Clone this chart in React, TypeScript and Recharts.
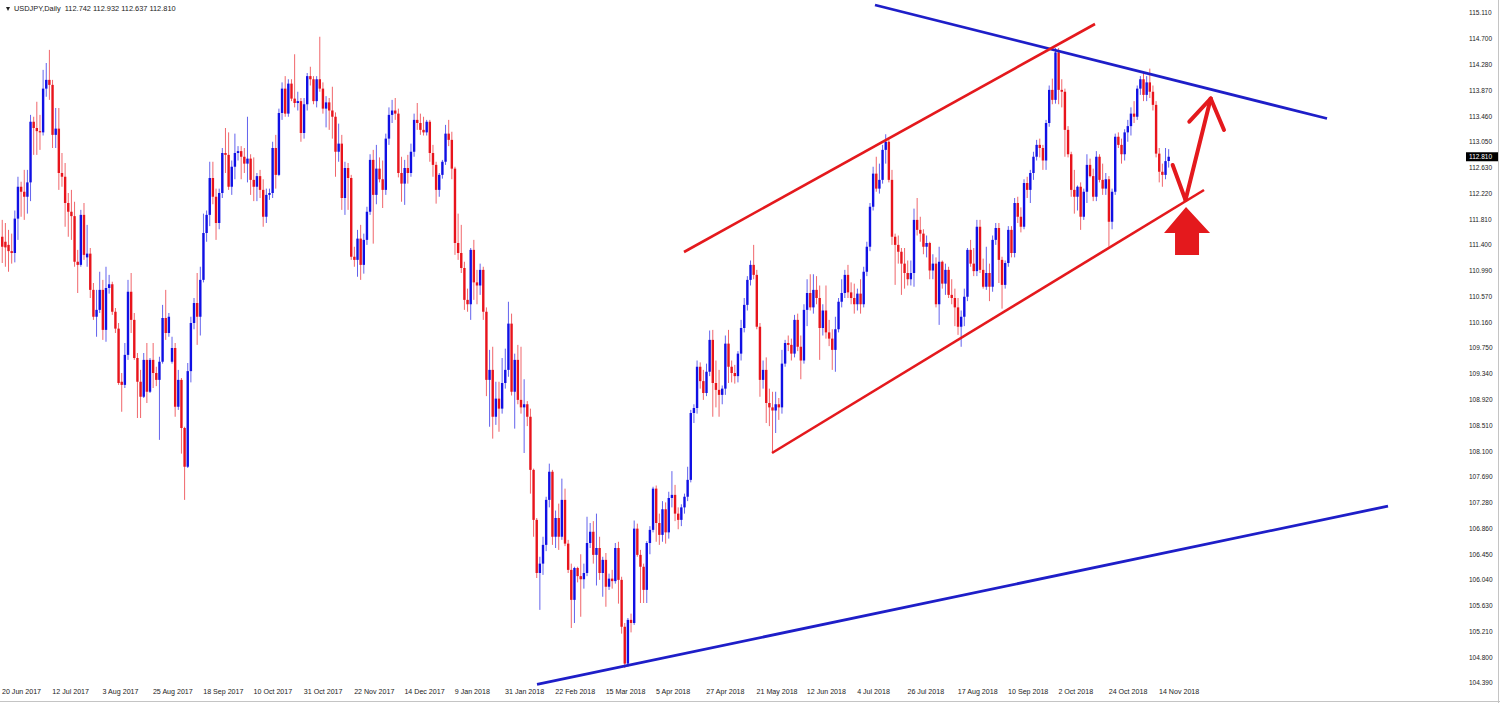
import React from 'react';
import { ComposedChart, Bar, XAxis, YAxis, ReferenceLine, ReferenceDot } from 'recharts';

// ---- candles [open, high, low, close] ----
const bars2017JunAug: number[][] = [
  [111.53,111.80,111.11,111.37],[111.45,111.75,111.05,111.36],[111.40,111.64,110.97,111.30],[111.30,111.58,111.10,111.27],
  [111.27,111.95,111.12,111.82],[111.82,112.49,111.48,112.33],[112.33,112.41,111.85,112.25],[112.25,112.60,111.80,112.17],
  [112.17,112.60,111.90,112.40],[112.40,113.48,112.10,113.37],[113.37,113.45,112.84,113.27],[113.27,113.69,112.84,113.22],
  [113.22,113.48,112.92,113.20],[113.20,114.20,113.15,113.90],[113.90,114.31,113.77,114.04],[114.04,114.52,113.72,113.96],
  [113.96,114.04,112.95,113.16],[113.16,113.59,112.95,113.26],[113.26,113.59,112.28,112.55],[112.55,112.87,112.33,112.49],
  [112.49,112.71,111.69,112.07],[112.07,112.23,111.53,111.93],[111.93,112.28,111.48,111.86],[111.86,112.09,111.05,111.13],
  [111.13,111.32,110.63,111.08],[111.08,111.96,111.05,111.88],[111.88,112.07,111.16,111.24],[111.20,111.72,111.05,111.26],
  [111.26,111.35,110.55,110.68],[110.68,110.79,110.20,110.25],[110.25,110.68,109.93,110.36],[110.36,110.97,110.31,110.68],
  [110.68,110.84,109.88,110.04],[110.04,111.05,109.85,110.71],[110.71,110.92,110.62,110.77],[110.77,110.81,110.28,110.33],
  [110.33,110.39,109.99,110.06],[110.06,110.15,109.16,109.19],[109.21,109.35,108.73,109.16],[109.16,109.83,109.11,109.64],
  [109.64,110.84,109.56,110.65],[110.65,110.95,109.99,110.20],[110.20,110.31,109.56,109.59],[109.59,109.67,108.63,109.21],
  [109.21,109.40,108.63,108.97],[108.97,109.67,108.95,109.56],[109.56,109.83,108.87,109.05],[109.05,109.59,109.03,109.56],
  [109.56,109.83,109.11,109.35],[109.35,109.45,109.14,109.24],[109.24,109.61,108.28,109.53],[109.53,110.44,109.50,110.23],
  [110.23,110.68,109.88,109.99],[109.99,110.31,109.93,110.25],
];
const bars2017SepOct: number[][] = [
  [109.53,109.93,109.50,109.75],[109.75,109.83,108.65,108.81],[108.81,109.40,108.76,109.24],[109.24,109.27,108.06,108.47],
  [108.47,108.49,107.32,107.85],[107.85,109.51,107.83,109.38],[109.38,110.25,109.20,110.15],[110.15,110.55,110.05,110.47],
  [110.47,110.95,109.80,110.25],[110.25,111.05,109.95,110.84],[110.84,111.90,110.80,111.59],[111.59,111.95,111.45,111.88],
  [111.88,112.73,111.70,112.47],[112.47,112.73,112.05,112.17],[112.17,112.30,111.48,111.75],[111.75,112.30,111.65,112.23],
  [112.23,112.95,112.15,112.87],[112.87,113.27,112.55,112.84],[112.84,113.20,112.28,112.33],[112.33,112.75,112.20,112.65],
  [112.65,113.18,112.45,112.87],[112.87,112.98,112.75,112.90],[112.90,112.98,112.45,112.81],[112.81,112.95,112.55,112.70],
  [112.70,113.45,112.40,112.78],[112.78,112.85,112.20,112.44],[112.44,112.80,112.10,112.33],[112.33,112.55,112.10,112.50],
  [112.50,112.60,112.15,112.28],[112.28,112.45,111.69,111.85],[111.85,112.30,111.75,112.20],[112.20,112.30,112.12,112.23],
  [112.23,113.05,112.15,112.95],[112.95,113.16,112.30,112.52],[112.52,113.58,112.50,113.51],[113.51,114.00,113.40,113.90],
  [113.90,114.10,113.45,113.50],[113.50,114.05,113.45,113.98],[113.98,114.05,113.70,113.74],[113.74,114.45,113.60,113.67],
  [113.67,113.85,113.55,113.70],[113.70,113.75,113.05,113.19],
];
const bars2017NovDec: number[][] = [
  [113.19,113.75,113.10,113.65],[113.65,114.15,113.55,114.10],[114.10,114.25,113.95,114.05],[114.05,114.10,113.65,113.70],
  [113.70,114.10,113.60,114.05],[114.05,114.73,113.85,113.90],[113.90,114.00,113.50,113.58],[113.58,113.78,113.28,113.68],
  [113.68,113.75,113.24,113.55],[113.55,113.93,113.10,113.45],[113.45,113.52,112.49,112.89],[112.89,113.34,112.73,113.02],
  [113.02,113.16,111.96,112.15],[112.15,112.73,111.88,112.63],[112.63,112.71,111.96,112.47],[112.47,112.52,111.16,111.21],
  [111.21,111.37,111.05,111.16],[111.16,111.64,110.89,111.50],[111.50,111.72,110.84,111.08],[111.08,111.58,110.94,111.48],
  [111.48,112.01,111.40,111.93],[111.93,112.85,111.88,112.76],[112.76,112.92,111.42,112.20],[112.20,113.00,112.05,112.62],
  [112.62,112.80,112.40,112.45],[112.45,112.75,111.99,112.28],[112.28,113.18,112.20,113.10],[113.10,113.60,113.00,113.48],
  [113.48,113.72,113.35,113.55],[113.55,113.75,113.40,113.50],[113.50,113.58,112.48,112.55],[112.55,112.81,112.09,112.38],
  [112.38,112.76,112.04,112.63],[112.63,112.84,112.38,112.55],[112.55,113.02,112.49,112.89],[112.89,113.50,112.81,113.40],
  [113.40,113.67,113.24,113.35],[113.35,113.50,113.16,113.24],[113.24,113.45,113.15,113.20],[113.20,113.40,113.15,113.37],
  [113.37,113.40,112.73,112.87],[112.87,113.00,112.49,112.68],[112.68,112.73,112.06,112.28],[112.28,112.55,112.17,112.52],
  [112.52,112.76,112.46,112.73],[112.73,113.32,112.68,113.18],[113.18,113.40,112.98,113.08],[113.08,113.21,112.45,112.62],
];
const bars2018JanFeb: number[][] = [
  [112.62,112.65,111.24,111.43],[111.43,111.90,111.16,111.27],[111.27,111.72,110.95,111.03],[111.03,111.13,110.36,110.52],
  [110.52,110.70,110.33,110.45],[110.45,111.35,110.20,111.32],[111.32,111.48,110.52,110.80],[110.80,111.00,110.45,110.75],
  [110.75,111.10,110.60,111.00],[111.00,111.05,110.20,110.33],[110.33,110.40,108.98,109.24],[109.24,109.72,108.49,109.40],
  [109.40,109.77,108.30,108.65],[108.65,109.21,108.52,108.94],[108.94,109.21,108.41,108.78],[108.78,109.59,108.70,109.19],
  [109.19,109.74,109.10,109.40],[109.40,110.49,109.29,110.14],[110.14,110.30,108.99,109.05],[109.05,109.66,108.46,109.56],
  [109.56,109.80,108.85,108.92],[108.92,109.77,108.70,108.80],[108.80,109.25,108.07,108.85],[108.85,108.90,108.50,108.65],
  [108.65,108.78,107.42,107.80],[107.80,107.82,106.73,107.00],[107.00,107.03,106.07,106.15],[106.15,106.41,105.56,106.30],
  [106.30,106.73,106.12,106.60],[106.60,107.37,106.50,107.32],[107.32,107.90,107.20,107.77],[107.77,107.80,106.60,106.73],
  [106.73,107.15,106.55,107.03],[107.03,107.26,106.52,106.73],[106.73,107.66,106.68,107.32],[107.32,107.50,106.58,106.62],
  [106.62,106.68,106.15,106.20],[106.20,106.30,105.27,105.72],[105.72,106.25,105.35,106.23],[106.23,106.25,106.00,106.10],
  [106.10,106.45,105.45,106.05],[106.05,106.30,105.90,106.15],[106.15,107.05,106.10,106.63],[106.63,106.95,106.55,106.81],
  [106.81,106.98,106.30,106.44],[106.44,107.10,105.95,106.55],
];
const bars2018MarApr: number[][] = [
  [106.55,106.73,106.04,106.15],[106.15,106.41,105.77,106.36],[106.36,106.47,105.61,105.93],[105.93,106.14,105.88,106.06],
  [106.06,106.20,105.90,106.02],[106.02,106.63,105.98,106.55],[106.55,106.65,105.66,106.04],[106.04,106.09,105.18,105.29],
  [105.29,105.35,104.63,104.70],[104.70,105.43,104.65,105.40],[105.40,105.50,105.20,105.35],[105.35,106.99,105.32,106.86],
  [106.86,106.94,106.41,106.44],[106.44,106.52,105.67,106.25],[106.25,106.30,105.67,105.88],[105.88,106.66,105.67,106.63],
  [106.63,106.90,106.45,106.84],[106.84,107.53,106.80,107.50],[107.50,107.55,106.65,106.95],[106.95,107.10,106.60,106.76],
  [106.76,107.30,106.65,107.17],[107.17,107.28,106.62,106.80],[106.80,107.45,106.70,107.35],[107.35,107.78,107.20,107.40],
  [107.40,107.56,106.98,107.10],[107.10,107.20,106.85,107.00],[107.00,107.25,106.90,107.20],[107.20,107.42,107.10,107.37],
  [107.37,107.85,107.30,107.64],[107.64,108.76,107.60,108.71],[108.71,108.85,108.55,108.79],[108.79,109.55,108.70,109.45],
  [109.45,109.52,109.10,109.22],[109.22,109.40,108.92,109.03],[109.03,109.50,108.98,109.37],[109.37,110.03,109.30,109.88],
  [109.88,110.04,108.65,109.19],[109.19,109.55,108.80,109.08],[109.08,109.40,108.65,109.00],[109.00,109.15,108.85,109.10],
  [109.10,109.95,109.00,109.82],[109.82,110.04,109.19,109.45],[109.45,109.55,109.20,109.35],[109.35,109.48,109.18,109.30],
  [109.30,109.70,109.20,109.66],[109.66,110.20,109.55,110.07],[110.07,110.55,110.00,110.44],[110.44,110.90,110.35,110.84],
  [110.84,111.15,110.75,111.08],[111.08,111.40,110.85,110.92],
];
const bars2018MayJul: number[][] = [
  [110.92,111.00,110.05,110.09],[110.09,110.15,108.97,109.24],[109.24,109.55,109.10,109.40],[109.40,109.60,108.55,108.87],
  [108.87,109.10,108.50,108.80],[108.80,109.05,108.07,108.75],[108.75,109.05,108.39,108.85],[108.85,108.95,108.60,108.80],
  [108.80,109.72,108.70,109.50],[109.50,109.88,109.45,109.83],[109.83,109.95,109.70,109.80],[109.80,109.90,109.55,109.66],
  [109.66,110.28,109.60,110.20],[110.20,110.30,109.70,109.77],[109.77,109.95,109.25,109.55],[109.55,110.45,109.50,110.36],
  [110.36,110.85,110.10,110.63],[110.63,110.93,110.35,110.40],[110.40,110.93,110.30,110.68],[110.68,110.90,110.45,110.55],
  [110.55,110.75,109.56,110.07],[110.07,110.45,109.95,110.35],[110.35,110.75,109.90,110.00],[110.00,110.20,109.78,109.90],
  [109.90,110.05,109.40,109.72],[109.72,110.25,109.37,110.05],[110.05,110.55,110.00,110.49],[110.49,110.85,110.40,110.63],
  [110.63,111.00,110.55,110.92],[110.92,111.08,110.55,110.64],[110.64,110.80,110.45,110.55],[110.55,110.78,110.30,110.45],
  [110.45,110.70,110.35,110.62],[110.62,110.85,110.30,110.45],[110.45,111.05,110.40,110.97],[110.97,111.45,110.90,111.37],
  [111.37,112.07,111.30,112.01],[112.01,112.65,111.95,112.54],[112.54,112.81,112.25,112.30],[112.30,112.70,112.22,112.44],
  [112.44,113.00,112.38,112.92],[112.92,113.17,112.70,113.05],[113.05,113.10,112.40,112.44],[112.44,112.60,111.40,111.53],
  [111.53,111.58,110.76,111.40],[111.40,111.55,111.10,111.29],[111.29,111.35,110.60,111.10],[111.10,111.35,110.70,110.95],
  [110.95,111.15,110.75,110.85],[110.85,111.15,110.75,110.95],
];
const bars2018AugSep: number[][] = [
  [110.95,111.98,110.73,111.80],[111.80,112.15,111.55,111.64],[111.64,111.85,111.45,111.58],[111.58,111.65,111.25,111.37],
  [111.37,111.55,111.20,111.43],[111.43,111.45,110.85,110.99],[110.99,111.25,110.85,111.10],[111.10,111.20,110.40,110.45],
  [110.45,111.37,110.12,111.13],[111.13,111.15,110.70,110.78],[110.78,111.10,110.60,111.00],[111.00,111.05,110.55,110.60],
  [110.60,110.85,110.45,110.55],[110.55,110.70,110.10,110.40],[110.40,110.55,109.96,110.09],[110.09,110.35,109.77,110.25],
  [110.25,110.70,110.10,110.57],[110.57,111.35,110.50,111.32],[111.32,111.48,111.05,111.10],[111.10,111.35,110.90,110.98],
  [110.98,111.80,110.90,111.69],[111.69,111.80,110.95,111.00],[111.00,111.18,110.70,110.73],[110.73,111.37,110.68,110.95],
  [110.95,111.10,110.50,110.73],[110.73,111.55,110.65,111.48],[111.48,111.75,111.40,111.67],[111.67,111.75,110.79,111.16],
  [111.16,111.21,110.38,110.76],[110.76,111.15,110.70,111.11],[111.11,111.70,111.05,111.64],[111.64,111.70,111.20,111.27],
  [111.27,112.15,111.20,112.07],[112.07,112.17,111.75,111.85],[111.85,112.00,111.60,111.69],[111.69,112.45,111.65,112.39],
  [112.39,112.49,112.15,112.28],[112.28,112.60,112.07,112.55],[112.55,112.89,112.44,112.81],[112.81,113.08,112.75,113.00],
  [113.00,113.10,112.80,112.95],[112.95,113.00,112.60,112.75],[112.75,113.40,112.60,113.35],[113.35,113.95,113.29,113.88],
  [113.88,114.06,113.65,113.72],[113.72,114.55,113.66,114.48],[114.48,114.55,113.65,113.88],[113.88,114.05,113.60,113.85],
  [113.85,113.90,112.81,113.24],[113.24,113.30,112.80,112.85],
];
const bars2018OctNov: number[][] = [
  [112.85,112.89,112.17,112.28],[112.28,112.60,111.90,112.17],[112.17,112.35,111.95,112.33],[112.33,112.40,111.64,111.85],
  [111.85,112.30,111.80,112.25],[112.25,112.85,112.07,112.68],[112.68,112.78,112.48,112.50],[112.50,112.62,112.10,112.17],
  [112.17,112.90,112.10,112.81],[112.81,112.85,112.40,112.44],[112.44,112.70,112.20,112.30],[112.30,112.55,112.20,112.45],
  [112.45,112.50,111.37,111.77],[111.77,112.30,111.65,112.25],[112.25,113.18,112.20,113.13],[113.13,113.20,112.95,113.00],
  [113.00,113.10,112.70,112.85],[112.85,113.25,112.75,113.20],[113.20,113.40,113.05,113.30],[113.30,113.60,113.15,113.50],
  [113.50,113.70,113.35,113.45],[113.45,113.95,113.40,113.90],[113.90,114.10,113.80,114.05],[114.05,114.15,113.70,113.80],
  [113.80,114.10,113.70,114.00],[114.00,114.22,113.75,113.85],[113.85,113.95,113.55,113.64],[113.64,113.70,112.80,112.86],
  [112.86,112.95,112.40,112.57],[112.57,112.70,112.33,112.52],[112.52,112.95,112.45,112.74],[112.742,112.932,112.637,112.810],
];

const dateLabels = [
  '20 Jun 2017','12 Jul 2017','3 Aug 2017','25 Aug 2017','18 Sep 2017','10 Oct 2017','31 Oct 2017','22 Nov 2017',
  '14 Dec 2017','9 Jan 2018','31 Jan 2018','22 Feb 2018','15 Mar 2018','5 Apr 2018','27 Apr 2018','21 May 2018',
  '12 Jun 2018','4 Jul 2018','26 Jul 2018','17 Aug 2018','10 Sep 2018','2 Oct 2018','24 Oct 2018','14 Nov 2018',
];
const labelEvery = 16;
const priceTicks = [
  115.11,114.70,114.28,113.87,113.46,113.05,112.63,112.22,111.81,111.40,110.99,110.57,110.16,109.75,
  109.34,108.92,108.51,108.10,107.69,107.28,106.86,106.45,106.04,105.63,105.21,104.80,104.39,
];
const symbolName = 'USDJPY,Daily';
const lastQuote = [112.742, 112.932, 112.637, 112.810];

// trend lines in (bar index, price)
const blueLines = [
  [[277.67, 115.238], [421.44, 113.422]],
  [[170.17, 104.368], [440.84, 107.220]],
];
const redLines = [
  [[216.92, 111.286], [347.65, 114.934]],
  [[244.91, 108.070], [382.32, 112.278]],
];
const arrowPath = [[372.35, 112.678], [376.43, 112.118], [384.45, 113.742]];
const arrowHead = [[377.64, 113.371], [384.45, 113.742], [388.68, 113.238]];
const signalPoint = [376.6, 112.006];

const allBars = [
  ...bars2017JunAug, ...bars2017SepOct, ...bars2017NovDec, ...bars2018JanFeb,
  ...bars2018MarApr, ...bars2018MayJul, ...bars2018AugSep, ...bars2018OctNov,
];
const data = allBars.map((b, i) => ({ i, o: b[0], h: b[1], l: b[2], c: b[3] }));

const FONT = '"Liberation Sans", Arial, sans-serif';
const BULL = '#1010e4';
const BEAR = '#e8141c';
const BLUE_LINE = '#1e1ec8';
const RED_LINE = '#e4191d';
const X_DOMAIN: [number, number] = [-0.636, 463.74];
const Y_DOMAIN: [number, number] = [104.31, 115.318];

const Candle = (props: any) => {
  const { x, y, width, height, payload } = props;
  if (!payload || x == null || y == null) return null;
  const { o, h, l, c } = payload;
  const cx = x + width / 2;
  const k = h - l > 0 ? height / (h - l) : 0;
  const py = (p: number) => y + (h - p) * k;
  const color = c >= o ? BULL : BEAR;
  const top = py(Math.max(o, c));
  const bot = py(Math.min(o, c));
  return (
    <g>
      <line x1={cx} x2={cx} y1={y} y2={y + height} stroke={color} strokeWidth={1} strokeOpacity={0.65} />
      <rect x={cx - 1.2} y={top} width={2.4} height={Math.max(bot - top, 1)} fill={color} />
    </g>
  );
};

const XTick = (props: any) => {
  const { x, payload } = props;
  const k = Math.round(payload.value / labelEvery);
  return (
    <text x={x} y={694} fontSize={7.1} fill="#222" fontFamily={FONT} textAnchor="start">
      {dateLabels[k] ?? ''}
    </text>
  );
};

const YTick = (props: any) => {
  const { y, payload } = props;
  return (
    <text x={1469} y={y + 2.4} fontSize={6.5} fill="#222" fontFamily={FONT} textAnchor="start">
      {Number(payload.value).toFixed(3)}
    </text>
  );
};

const BlockArrow = (props: any) => {
  const { cx, cy } = props;
  if (cx == null || cy == null) return null;
  const pts = [[0, 0], [24, 26], [13, 26], [13, 48], [-11, 48], [-11, 26], [-22, 26]]
    .map(([dx, dy]) => `${cx + dx},${cy + dy}`).join(' ');
  return <polygon points={pts} fill={RED_LINE} />;
};

const PriceBox = (props: any) => {
  const { cx, cy } = props;
  if (cx == null || cy == null) return null;
  return (
    <g>
      <rect x={cx + 6} y={cy - 4.5} width={33} height={9} fill="#000" />
      <text x={cx + 9} y={cy + 2.4} fontSize={6.5} fill="#fff" fontFamily={FONT}>{lastQuote[3].toFixed(3)}</text>
    </g>
  );
};

const seg = (pair: number[][]) => [{ x: pair[0][0], y: pair[0][1] }, { x: pair[1][0], y: pair[1][1] }];

export default function App() {
  const xTicks = dateLabels.map((_, k) => k * labelEvery);
  return (
    <div style={{ position: 'absolute', left: 0, top: 0, width: 1500, height: 703, background: '#fff', overflow: 'hidden' }}>
      <ComposedChart width={1500} height={703} data={data} margin={{ top: 0, right: 0, bottom: 0, left: 0 }}>
        <XAxis
          dataKey="i" type="number" domain={X_DOMAIN} allowDataOverflow ticks={xTicks}
          tick={<XTick />} tickLine={false} axisLine={false} height={15} interval={0}
        />
        <YAxis
          type="number" orientation="right" domain={Y_DOMAIN} allowDataOverflow ticks={priceTicks}
          tick={<YTick />} tickLine={false} axisLine={false} width={40} interval={0}
        />
        <Bar dataKey={(d: any) => [d.l, d.h]} shape={<Candle />} isAnimationActive={false} />
        {blueLines.map((p, n) => (
          <ReferenceLine key={'b' + n} segment={seg(p)} stroke={BLUE_LINE} strokeWidth={2.8} ifOverflow="visible" />
        ))}
        {redLines.map((p, n) => (
          <ReferenceLine key={'r' + n} segment={seg(p)} stroke={RED_LINE} strokeWidth={2.6} ifOverflow="visible" />
        ))}
        {arrowPath.slice(1).map((p, n) => (
          <ReferenceLine key={'a' + n} segment={seg([arrowPath[n], p])} stroke={RED_LINE} strokeWidth={4} strokeLinecap="round" ifOverflow="visible" />
        ))}
        {arrowHead.slice(1).map((p, n) => (
          <ReferenceLine key={'h' + n} segment={seg([arrowHead[n], p])} stroke={RED_LINE} strokeWidth={4} strokeLinecap="round" ifOverflow="visible" />
        ))}
        <ReferenceDot x={signalPoint[0]} y={signalPoint[1]} r={0} shape={<BlockArrow />} ifOverflow="visible" />
        <ReferenceDot x={X_DOMAIN[1]} y={lastQuote[3]} r={0} shape={<PriceBox />} ifOverflow="visible" />
      </ComposedChart>
      <div style={{ position: 'absolute', left: 6, top: 4, fontSize: 7.4, lineHeight: '10px', color: '#222', fontFamily: FONT, whiteSpace: 'pre' }}>
        <span style={{ display: 'inline-block', width: 0, height: 0, borderLeft: '2.5px solid transparent', borderRight: '2.5px solid transparent', borderTop: '4px solid #222', marginRight: 4, verticalAlign: 'middle' }} />
        {symbolName + '  ' + lastQuote.map((v) => v.toFixed(3)).join(' ')}
      </div>
      <div style={{ position: 'absolute', left: 1498, top: 0, width: 1, height: 703, background: '#c4c4c4' }} />
      <div style={{ position: 'absolute', left: 0, top: 701, width: 1500, height: 1, background: '#c4c4c4' }} />
    </div>
  );
}
